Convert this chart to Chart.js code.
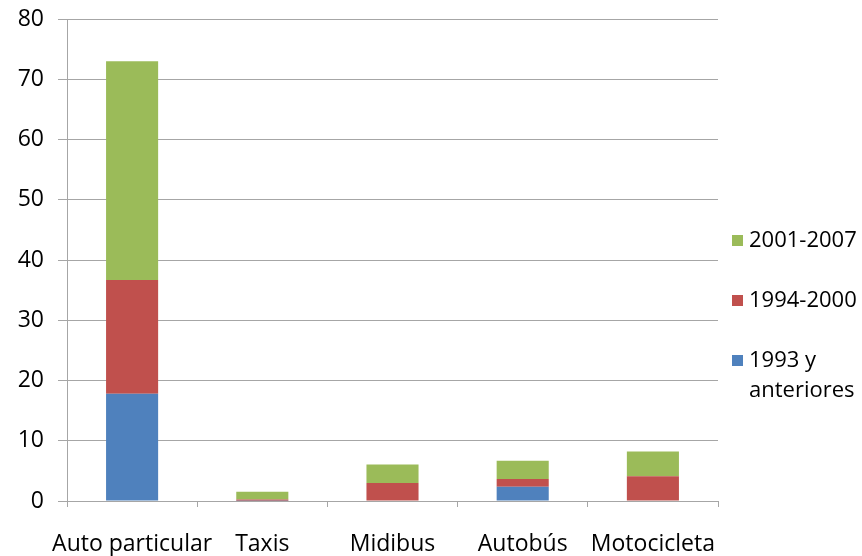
<!DOCTYPE html>
<html>
<head>
<meta charset="utf-8">
<script src="https://cdn.jsdelivr.net/npm/chart.js@4/dist/chart.umd.min.js"></script>
<style>
  html, body { margin: 0; padding: 0; background: #fff; }
  #wrap { width: 862px; height: 556px; position: relative; }
</style>
</head>
<body>
<div id="wrap"><canvas id="chart"></canvas></div>
<script>
const CATEGORIES = ['Auto particular', 'Taxis', 'Midibus', 'Autobús', 'Motocicleta'];
const SERIES_NAMES = [['1993 y', 'anteriores'], '1994-2000', '2001-2007'];
const OLD_1993 = [17.8, 0.05, 0, 2.35, 0];
const MID_1994 = [18.9, 0.2, 3.0, 1.3, 4.1];
const NEW_2001 = [36.3, 1.3, 3.05, 3.05, 4.1];
const Y_MAX = 80;
const Y_STEP = 10;

const COLORS = {
  blue:  '#4f81bd',
  red:   '#c0504d',
  green: '#9bbb59',
};
const FONT = 'Open Sans, sans-serif';
const FSIZE = 23;
const TXT = '#000000';
const GRID = '#a6a6a6';

// legend drawn by hand: big gaps and a two-line label
const sideLegend = {
  id: 'sideLegend',
  afterDraw(chart) {
    const { ctx } = chart;
    const sets = chart.data.datasets.slice().reverse();
    const tops = [241, 301, 361];
    ctx.save();
    ctx.font = '22px ' + FONT;
    ctx.textBaseline = 'middle';
    ctx.textAlign = 'left';
    sets.forEach((ds, i) => {
      const y = tops[i];
      ctx.fillStyle = ds.backgroundColor;
      ctx.fillRect(732, y - 6, 11, 11);
      ctx.fillStyle = TXT;
      const lines = Array.isArray(ds.label) ? ds.label : [ds.label];
      lines.forEach((ln, j) => ctx.fillText(ln, 749, y + j * 30));
    });
    ctx.restore();
  },
};

const mk = (label, data, color) => ({
  label,
  data,
  backgroundColor: color,
  borderWidth: 0,
  barPercentage: 0.8,
  categoryPercentage: 0.5,
});

new Chart(document.getElementById('chart'), {
  type: 'bar',
  data: {
    labels: CATEGORIES,
    datasets: [
      mk(SERIES_NAMES[0], OLD_1993, COLORS.blue),
      mk(SERIES_NAMES[1], MID_1994, COLORS.red),
      mk(SERIES_NAMES[2], NEW_2001, COLORS.green),
    ],
  },
  plugins: [sideLegend],
  options: {
    responsive: true,
    maintainAspectRatio: false,
    animation: false,
    layout: { padding: { left: 0, right: 144, top: 19, bottom: 0 } },
    plugins: {
      legend: { display: false },
      tooltip: { enabled: false },
    },
    scales: {
      x: {
        stacked: true,
        afterFit: (s) => { s.height = 55; },
        border: { color: GRID, width: 1 },
        grid: { drawOnChartArea: false, drawTicks: true, tickLength: 6, color: GRID, offset: true },
        ticks: { color: TXT, font: { family: FONT, size: FSIZE }, padding: 24, maxRotation: 0, autoSkip: false },
      },
      y: {
        stacked: true,
        min: 0,
        max: Y_MAX,
        afterFit: (s) => { s.width = 67; s.paddingTop = 0; s.paddingBottom = 0; },
        border: { color: GRID, width: 1 },
        grid: { color: GRID, lineWidth: 1, tickLength: 9 },
        ticks: { stepSize: Y_STEP, color: TXT, font: { family: FONT, size: FSIZE }, padding: 14 },
      },
    },
  },
});
</script>
</body>
</html>
